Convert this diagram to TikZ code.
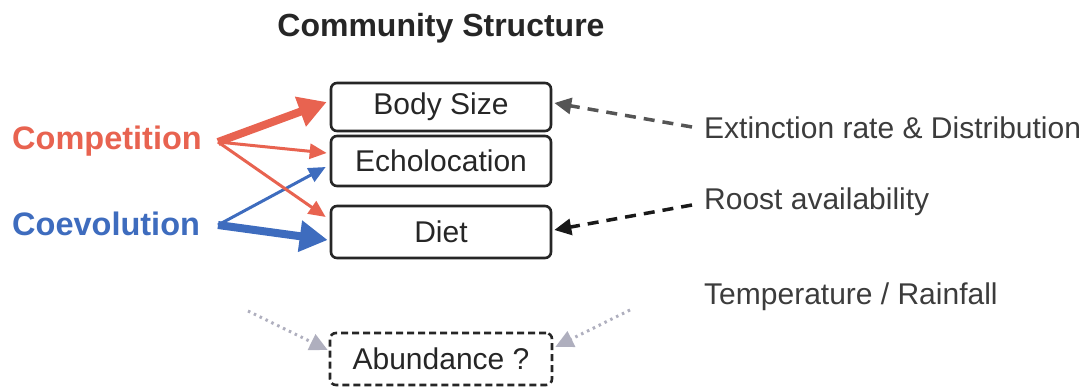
\documentclass[tikz,border=0pt]{standalone}
\usepackage{fontspec}
\setmainfont{Liberation Sans}
\usetikzlibrary{arrows.meta}
\definecolor{compred}{RGB}{232,99,80}
\definecolor{coevblue}{RGB}{62,108,190}
\definecolor{txtgray}{RGB}{60,60,60}
\definecolor{dashgray}{RGB}{85,85,85}
\definecolor{dotgray}{RGB}{175,175,190}
\tikzset{
  box/.style={draw=black!85, line width=2.6pt, rounded corners=6pt, minimum width=220pt, inner sep=0pt, font=\fontsize{30}{36}\selectfont, text=black!85},
  side/.style={font=\fontsize{30}{36}\selectfont, text=txtgray, anchor=west, inner sep=0pt},
  driver/.style={font=\bfseries\fontsize{32.5}{38}\selectfont, anchor=west, inner sep=0pt},
  thickarr/.style={line width=8pt, -{Triangle[length=28pt,width=30pt]}},
  thinarr/.style={line width=3pt, -{Triangle[length=17pt,width=15pt]}},
  dasharr/.style={line width=3.5pt, dash pattern=on 11pt off 8pt, -{Triangle[length=17pt,width=16pt]}},
  dotarr/.style={dotgray, line width=3pt, dash pattern=on 2.5pt off 4pt, -{Triangle[length=18pt,width=17pt]}},
}
\begin{document}
\begin{tikzpicture}[x=1pt,y=-1pt]
\useasboundingbox (0,0) rectangle (1087,387);
\node[font=\bfseries\fontsize{32}{38}\selectfont, text=black!85] (title) at (441,28) {Community Structure};
\node[box, minimum height=48pt] (body) at (441,107) {Body Size};
\node[box, minimum height=50pt] (echo) at (441,161) {Echolocation};
\node[box, minimum height=52pt] (diet) at (441,232) {Diet};
\node[box, dash pattern=on 7pt off 4pt, minimum height=52pt, minimum width=222pt] (abund) at (441,359) {Abundance ?};
\node[driver, text=compred] (comp) at (12,141) {Competition};
\node[driver, text=coevblue] (coev) at (12,224) {Coevolution};
\node[side] (ext) at (704,128) {Extinction rate \& Distribution};
\node[side] (roost) at (704,202) {Roost availability};
\node[side] (temp) at (704,297) {Temperature / Rainfall};
\coordinate (cs) at (218,142);
\coordinate (vs) at (218,225);
\coordinate (dl) at (248,311);
\coordinate (dr) at (630,310);
% competition
\draw[compred, thickarr] (cs) -- ([xshift=-3pt,yshift=5pt]body.west);
\draw[compred, thinarr] (cs) -- ([xshift=-3pt,yshift=8pt]echo.west);
% coevolution
\draw[coevblue, thinarr] (vs) -- ([xshift=-4pt,yshift=-6pt]echo.west);
\draw[coevblue, thickarr] (vs) -- ([xshift=-2pt,yshift=-8pt]diet.west);
\draw[compred, thinarr] (cs) -- ([xshift=-4pt,yshift=15pt]diet.west);
% right dashed
\draw[dashgray, dasharr] ([xshift=-12pt,yshift=1pt]ext.west) -- ([xshift=2pt,yshift=4pt]body.east);
\draw[black!90, dasharr] ([xshift=-12pt,yshift=-3pt]roost.west) -- ([xshift=2pt,yshift=2pt]diet.east);
% dotted
\draw[dotarr] (dl) -- ([xshift=-1pt,yshift=9pt]abund.west);
\draw[dotarr] (dr) -- ([xshift=2pt,yshift=12pt]abund.east);
\end{tikzpicture}
\end{document}
